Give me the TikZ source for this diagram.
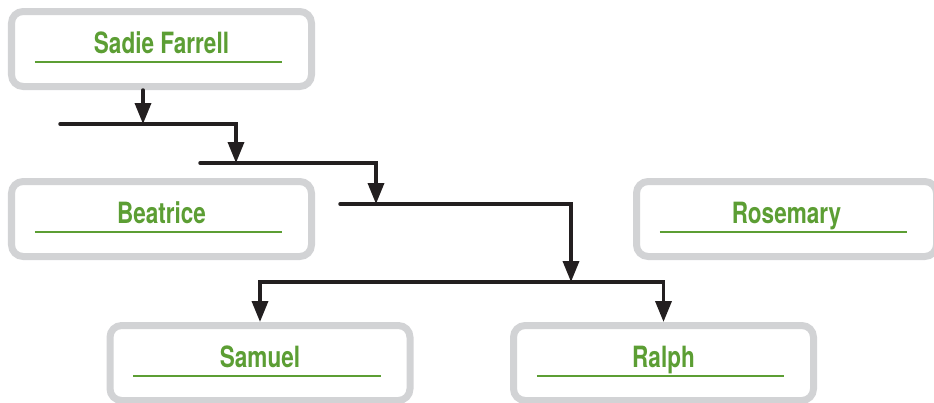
\documentclass[tikz,border=0pt]{standalone}
\usepackage{fontspec}
\setmainfont{TeX Gyre Heros}[FakeStretch=0.77]
\usepackage{tikz}
\usetikzlibrary{
    arrows.meta,
    positioning,
    calc
}
\definecolor{namegreen}{RGB}{92, 158, 52}
\definecolor{boxgray}{RGB}{210, 211, 213}
\definecolor{linkblack}{RGB}{35, 31, 32}
\tikzstyle{person} = [
    rectangle,
    rounded corners=0.35cm,
    draw=boxgray,
    line width=0.21cm,
    fill=white,
    minimum width=9cm,
    minimum height=2.25cm,
    text=namegreen,
    font=\fontsize{25}{28}\selectfont\bfseries,
    text height=0.5cm,
    text depth=0.26cm,
    path picture={\draw[namegreen, line width=0.05cm]
        ($(path picture bounding box.west)+(0.7cm,-0.39cm)$) --
        ($(path picture bounding box.east)+(-0.88cm,-0.39cm)$);}
]
\tikzstyle{link} = [
    draw=linkblack,
    line width=0.105cm,
    line cap=round,
    -{Triangle[length=0.63cm, width=0.48cm]}
]

\begin{document}
\begin{tikzpicture}
    \useasboundingbox (0,0) rectangle (28.02,-12.06);

    % People
    \node[person] (sadie) at (4.845,-1.47) {Sadie Farrell};
    \node[person, below=2.64cm of sadie] (beatrice) {Beatrice};
    \node[person, right=9.54cm of beatrice] (rosemary) {Rosemary};
    \node[person] (samuel) at (7.8,-10.89) {Samuel};
    \node[person] (ralph) at (19.905,-10.89) {Ralph};

    % Bars
    \coordinate (drop) at (4.29,-3.72);
    \coordinate (bar1w) at (1.8,-3.72);
    \coordinate (bar1e) at (7.08,-3.72);
    \coordinate (bar2w) at (6.0,-4.89);
    \coordinate (bar2e) at (11.28,-4.89);
    \coordinate (bar3w) at (10.2,-6.12);
    \coordinate (bar3e) at (17.13,-6.12);
    \coordinate (bar4) at (17.13,-8.46);

    % Arrows
    \draw[link] (sadie.south -| drop) -- (drop);
    \draw[link] (bar1w) -- (bar1e) -- (bar1e |- bar2w);
    \draw[link] (bar2w) -- (bar2e) -- (bar2e |- bar3w);
    \draw[link] (bar3w) -- (bar3e) -- (bar4);
    \draw[link] (bar4) -| (samuel);
    \draw[link] (bar4) -| (ralph);

\end{tikzpicture}
\end{document}
